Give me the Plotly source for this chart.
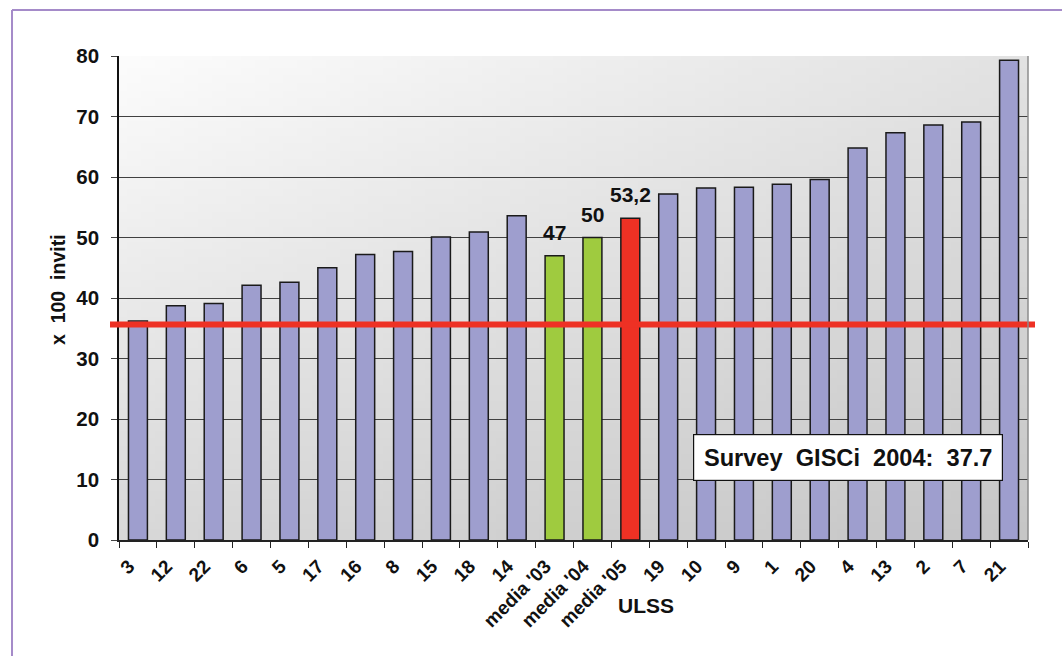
import base64
import struct
import zlib

import plotly.graph_objects as go

# ---- data -------------------------------------------------------------
ulss = ["3", "12", "22", "6", "5", "17", "16", "8", "15", "18", "14",
        "media '03", "media '04", "media '05",
        "19", "10", "9", "1", "20", "4", "13", "2", "7", "21"]
inviti = [36.2, 38.7, 39.1, 42.1, 42.6, 45.0, 47.2, 47.7, 50.1, 50.9, 53.6,
          47.0, 50.0, 53.2,
          57.2, 58.2, 58.3, 58.8, 59.6, 64.8, 67.3, 68.6, 69.1, 79.3]
soglia = 35.6
survey_label = "Survey  GISCi  2004:  37.7"
y_ticks = [0, 10, 20, 30, 40, 50, 60, 70, 80]

PURPLE = "#9E9ECE"
GREEN = "#9FCB3F"
RED = "#EE3124"
FONT = "Arial, Liberation Sans, sans-serif"


def bar_color(name):
    if name == "media '05":
        return RED
    if name.startswith("media"):
        return GREEN
    return PURPLE


def gradient_png(w, h):
    """Small diagonal grey gradient used as the plot-area background."""
    raw = bytearray()
    for j in range(h):
        v = j / (h - 1)
        raw.append(0)
        for i in range(w):
            u = i / (w - 1)
            c = int(round(252 - 26 * u - 36 * v + 8 * u * v))
            raw += bytes((c, c, c))

    def chunk(tag, data):
        body = tag + data
        return struct.pack(">I", len(data)) + body + struct.pack(">I", zlib.crc32(body) & 0xFFFFFFFF)

    png = b"\x89PNG\r\n\x1a\n"
    png += chunk(b"IHDR", struct.pack(">IIBBBBB", w, h, 8, 2, 0, 0, 0))
    png += chunk(b"IDAT", zlib.compress(bytes(raw), 9))
    png += chunk(b"IEND", b"")
    return "data:image/png;base64," + base64.b64encode(png).decode()


fig = go.Figure()
fig.add_trace(go.Bar(
    x=ulss,
    y=inviti,
    marker=dict(color=[bar_color(n) for n in ulss],
                line=dict(color="#1a1a1a", width=1.5)),
    hoverinfo="x+y",
))

fig.update_layout(
    width=1062, height=656,
    margin=dict(l=119, r=34, t=56, b=116),
    paper_bgcolor="white",
    plot_bgcolor="rgba(0,0,0,0)",
    bargap=0.5,
    showlegend=False,
    font=dict(family=FONT, color="#111"),
    images=[dict(source=gradient_png(64, 64), xref="paper", yref="paper",
                 x=0, y=1, sizex=1, sizey=1, xanchor="left", yanchor="top",
                 sizing="stretch", layer="below")],
)

fig.update_xaxes(
    type="category",
    showgrid=False,
    showline=True, linecolor="#222", linewidth=1.5,
    ticks="outside", tickson="boundaries", ticklen=6, tickcolor="#222",
    tickangle=-45,
    ticklabelstandoff=6, ticklabelshift=-9,
    tickfont=dict(family=FONT, size=19, color="#111", weight="bold"),
)
fig.update_yaxes(
    range=[0, 80],
    tickvals=y_ticks,
    showgrid=True, gridcolor="#404040", gridwidth=1,
    showline=True, linecolor="#111", linewidth=1.5,
    ticks="outside", ticklen=6, tickcolor="#444",
    ticklabelstandoff=8,
    tickfont=dict(family=FONT, size=20.5, color="#111", weight="bold"),
    zeroline=False,
)

shapes = [
    # reference threshold line
    dict(type="line", xref="paper", yref="y", x0=-0.0099, x1=1.0077,
         y0=soglia, y1=soglia, line=dict(color=RED, width=6), layer="above"),
    # right edge of plot area
    dict(type="line", xref="paper", yref="paper", x0=1, x1=1, y0=0, y1=1,
         line=dict(color="#8c8c8c", width=1.5)),
    # outer frame (top and left)
    dict(type="line", xref="paper", yref="paper", x0=-0.1177, x1=1.04,
         y0=1.0950, y1=1.0950, line=dict(color="#A58BC9", width=2)),
    dict(type="line", xref="paper", yref="paper", x0=-0.1177, x1=-0.1177,
         y0=1.0950, y1=-0.25, line=dict(color="#A58BC9", width=2)),
]
fig.update_layout(shapes=shapes)

# value labels over the average bars
for name, value in zip(ulss, inviti):
    if name.startswith("media"):
        fig.add_annotation(
            x=name, y=value, xref="x", yref="y",
            text=f"{value:g}".replace(".", ","),
            showarrow=False, yanchor="bottom", yshift=10,
            font=dict(family=FONT, size=21, color="#111", weight="bold"),
        )

fig.add_annotation(
    text=survey_label.replace(" ", "\u00a0"),
    xref="paper", yref="paper", x=(848 - 119) / 909, y=(540 - 457) / 484,
    xanchor="center", yanchor="middle",
    showarrow=False, font=dict(family=FONT, size=23.6, color="#111", weight="bold"),
    bgcolor="white", bordercolor="#111", borderwidth=1.2,
    width=306, height=43, align="center", valign="middle",
)
fig.add_annotation(
    text="ULSS", xref="paper", yref="paper",
    x=(646 - 119) / 909, y=(540 - 606) / 484,
    xanchor="center", yanchor="middle",
    showarrow=False, font=dict(family=FONT, size=21, color="#111", weight="bold"),
)
fig.add_annotation(
    text="x\u00a0\u00a0100\u00a0\u00a0inviti", xref="paper", yref="paper",
    x=(58 - 119) / 909, y=(540 - 290) / 484, textangle=-90,
    xanchor="center", yanchor="middle",
    showarrow=False, font=dict(family=FONT, size=19.5, color="#111", weight="bold"),
)

fig.write_html("out.html")
